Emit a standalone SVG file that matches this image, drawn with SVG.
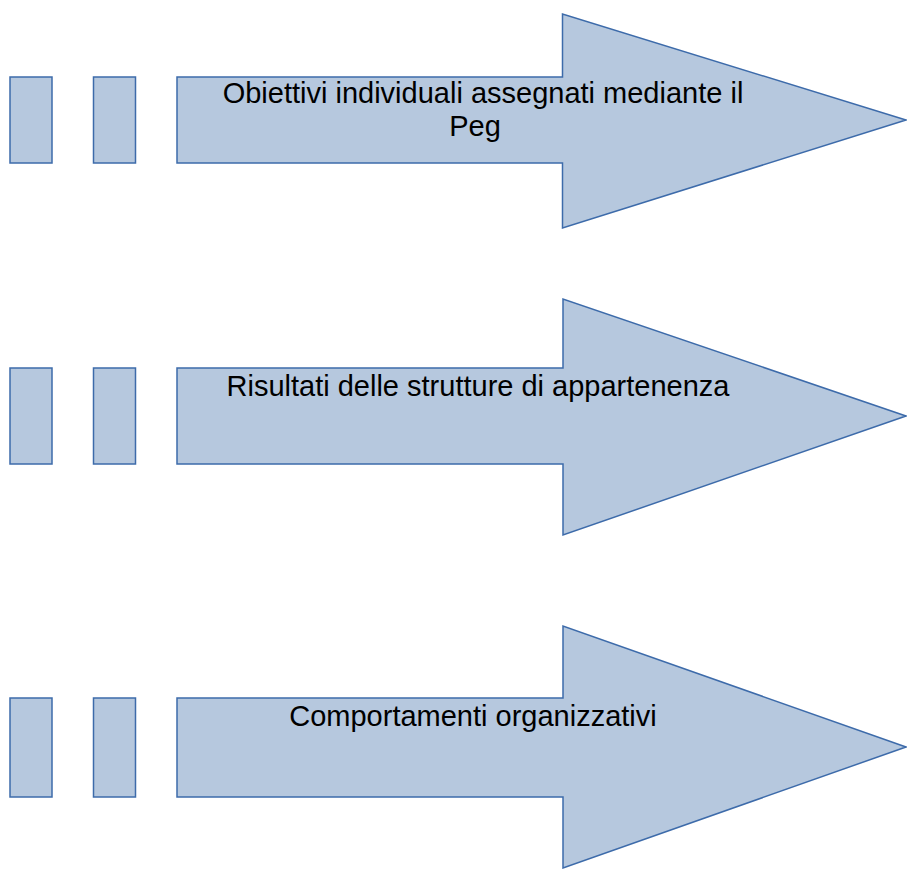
<svg xmlns="http://www.w3.org/2000/svg" width="907" height="869" viewBox="0 0 907 869">
<style>
.shape{fill:#B6C8DE;stroke:#3D6BAA;stroke-width:1.5;stroke-linejoin:miter}
.lbl{font-family:"Liberation Sans",Arial,sans-serif;font-size:29px;fill:#000;text-anchor:middle}
</style>
<rect width="907" height="869" fill="#FFFFFF"/>
<g id="row1">
<rect class="shape" x="10" y="77" width="42" height="86"/>
<rect class="shape" x="93.5" y="77" width="42" height="86"/>
<polygon class="shape" points="177,77 562.5,77 562.5,14 906,120 562.5,228 562.5,163 177,163"/>
<text class="lbl" x="483" y="103">Obiettivi individuali assegnati mediante il</text>
<text class="lbl" x="475" y="136">Peg</text>
</g>
<g id="row2">
<rect class="shape" x="10" y="368" width="42" height="96"/>
<rect class="shape" x="93.5" y="368" width="42" height="96"/>
<polygon class="shape" points="177,368 563,368 563,299 906,416 563,535 563,464 177,464"/>
<text class="lbl" x="478" y="396">Risultati delle strutture di appartenenza</text>
</g>
<g id="row3">
<rect class="shape" x="10" y="698" width="42" height="99"/>
<rect class="shape" x="93.5" y="698" width="42" height="99"/>
<polygon class="shape" points="177,698 563,698 563,626 906,747 563,868 563,797 177,797"/>
<text class="lbl" x="473" y="726">Comportamenti organizzativi</text>
</g>
<g id="connectors"></g>
</svg>
